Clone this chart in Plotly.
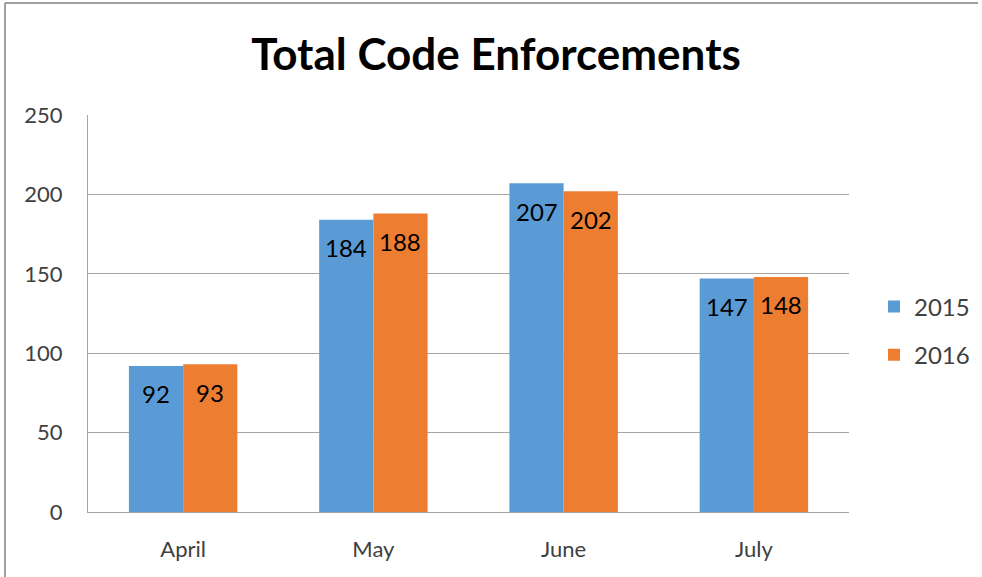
import plotly.graph_objects as go

months = ["April", "May", "June", "July"]
y2015 = [92, 184, 207, 147]
y2016 = [93, 188, 202, 148]
series_names = ["2015", "2016"]
colors = ["#5B9BD5", "#ED7D31"]

L, R, T, B = 88, 133, 115, 65
W, H = 982, 577
pw, ph = W - L - R, H - T - B
BARGAP = 0.43

def px(x):
    return (x - L) / pw

def py(y):
    return (H - B - y) / ph

fig = go.Figure()
series = [y2015, y2016]
for name, vals, col in zip(series_names, series, colors):
    fig.add_trace(go.Bar(
        x=months, y=vals, name=name, marker=dict(color=col, line=dict(width=0)),
        legendgroup=name, hoverinfo="x+y+name",
    ))

# data labels inside the bars, near the top
bar_w = pw / len(months) * (1 - BARGAP) / 2
for i, vals in enumerate(series):
    off = (i - 0.5) * bar_w
    for m, v in zip(months, vals):
        fig.add_annotation(x=m, y=v, xref="x", yref="y", text=str(v), showarrow=False,
                           xshift=off, yshift=-28, yanchor="middle", xanchor="center",
                           font=dict(size=24, color="#000000", family="Lato"))

fig.update_layout(
    width=W, height=H,
    margin=dict(l=L, r=R, t=T, b=B, autoexpand=False),
    paper_bgcolor="white", plot_bgcolor="white",
    barmode="group", bargap=BARGAP, bargroupgap=0,
    font=dict(family="Lato", color="#404040"),
    title=dict(text="<b>Total Code Enforcements</b>", x=px(496), xref="paper",
               xanchor="center", y=1 - 55 / H, yanchor="middle",
               font=dict(size=44, color="#000000", family="Lato")),
    showlegend=True,
    legend=dict(x=px(874), y=py(331), xanchor="left", yanchor="middle",
                font=dict(size=24, color="#404040"), tracegroupgap=14,
                itemwidth=30, bgcolor="rgba(0,0,0,0)"),
)
fig.update_yaxes(range=[0, 250], dtick=50, showgrid=True, gridcolor="#A6A6A6",
                 gridwidth=1, showline=True, linecolor="#A6A6A6", zeroline=False,
                 tickfont=dict(size=22, color="#404040"), ticks="", ticklabelstandoff=20)
fig.update_xaxes(showline=True, linecolor="#A6A6A6", showgrid=False,
                 tickfont=dict(size=22, color="#404040"), ticks="", ticklabelstandoff=18)

# outer border
fig.add_shape(type="line", xref="paper", yref="paper", x0=px(5), x1=px(5), y0=py(3), y1=py(600),
              line=dict(color="#808080", width=1.5))
fig.add_shape(type="line", xref="paper", yref="paper", x0=px(5), x1=px(978), y0=py(3), y1=py(3),
              line=dict(color="#808080", width=1.5))

post = ("document.body.style.margin='0';document.body.style.overflow='hidden';"
        "Plotly.relayout('{plot_id}', {width: 982, height: 577});")
fig.write_html("out.html", post_script=post,
               config={"responsive": False, "displayModeBar": False})
